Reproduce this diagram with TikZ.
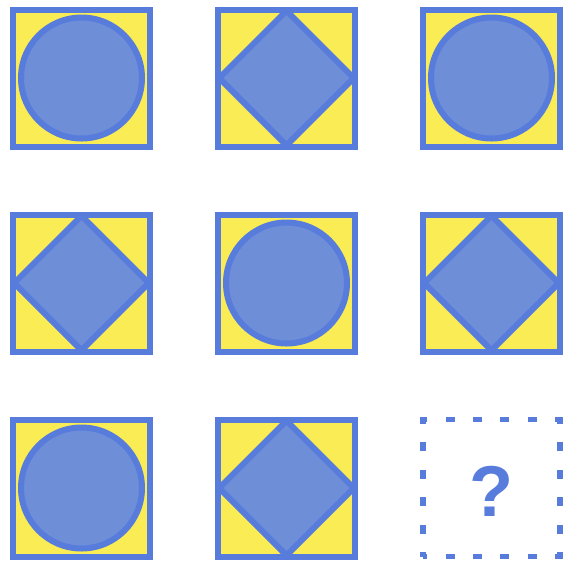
\documentclass[tikz,border=0pt]{standalone}
\usepackage{fontspec}
\setmainfont{Liberation Sans}
\usepackage{tikz}
\usetikzlibrary{
positioning,
shapes.geometric
}
\definecolor{tileyellow}{RGB}{250,236,84}
\definecolor{tileblue}{RGB}{88,124,220}
\definecolor{shapeblue}{RGB}{110,142,216}

\begin{document}
\begin{tikzpicture}[
  x=1pt, y=-1pt,
  node distance=62pt,
  tile/.style={draw=tileblue, line width=6pt, fill=tileyellow, minimum size=137pt, inner sep=0pt},
  disc/.style={circle, draw=tileblue, line width=6pt, fill=shapeblue, minimum size=121pt, inner sep=0pt},
  rhomb/.style={diamond, draw=tileblue, line width=6pt, line join=bevel, fill=shapeblue, minimum size=137pt, inner sep=0pt},
  blank/.style={draw=tileblue, line width=5.5pt, dash pattern=on 9pt off 18.4pt, dash phase=4.5pt, minimum size=137pt, inner sep=0pt},
  qmark/.style={font=\bfseries\fontsize{72}{72}\selectfont, text=tileblue, inner sep=0pt}
]
\useasboundingbox (0,0) rectangle (563,566);

% Tiles
\node[tile] (t11) at (81.5,78) {};
\node[tile, right=of t11] (t12) {};
\node[tile, right=of t12] (t13) {};
\node[tile, below=of t11] (t21) {};
\node[tile, right=of t21] (t22) {};
\node[tile, right=of t22] (t23) {};
\node[tile, below=of t21] (t31) {};
\node[tile, right=of t31] (t32) {};
\node[blank, right=of t32] (t33) {};

% Shapes inside the tiles
\node[disc] (c11) at (t11.center) {};
\node[rhomb] (d12) at (t12.center) {};
\node[disc] (c13) at (t13.center) {};
\node[rhomb] (d21) at (t21.center) {};
\node[disc] (c22) at (t22.center) {};
\node[rhomb] (d23) at (t23.center) {};
\node[disc] (c31) at (t31.center) {};
\node[rhomb] (d32) at (t32.center) {};

% Missing tile
\node[qmark] (ask) at ([yshift=-3pt]t33.center) {?};

\end{tikzpicture}
\end{document}
